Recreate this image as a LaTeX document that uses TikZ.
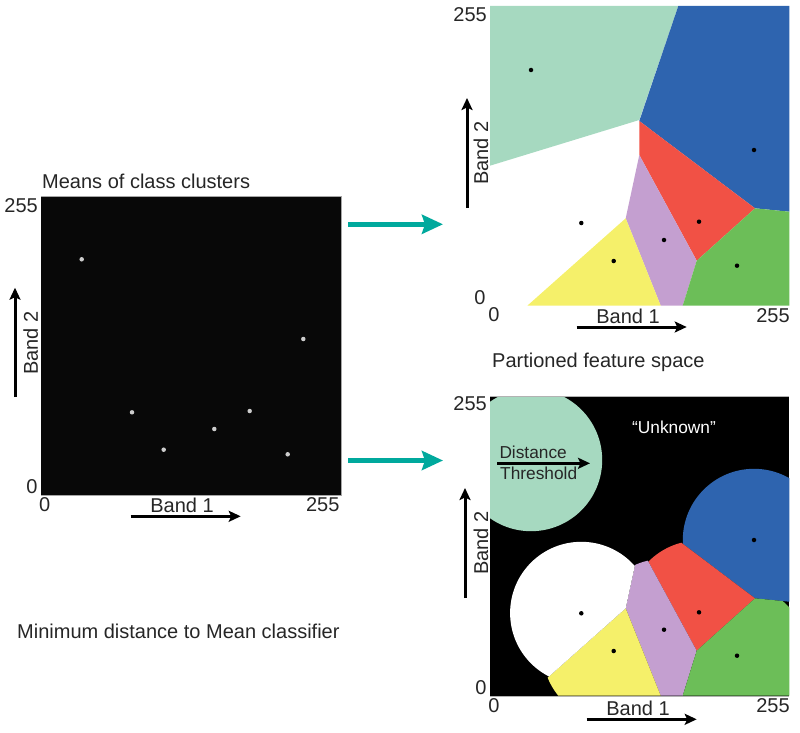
\documentclass[tikz,border=0pt]{standalone}
\usepackage{fontspec}
\setmainfont{Liberation Sans}
\usetikzlibrary{arrows.meta}
\definecolor{tealclass}{HTML}{A6D9C0}
\definecolor{blueclass}{HTML}{2E64AF}
\definecolor{redclass}{HTML}{F15145}
\definecolor{purpleclass}{HTML}{C49FD0}
\definecolor{yellowclass}{HTML}{F5F06A}
\definecolor{greenclass}{HTML}{6CBE58}
\definecolor{arrowteal}{HTML}{00A99D}
\definecolor{panelblack}{HTML}{080808}
\tikzstyle{label}=[font=\fontsize{20}{22}\selectfont,text=black!85,inner sep=0pt]
\tikzstyle{smalllabel}=[font=\fontsize{17.3}{19}\selectfont,text=black!85,inner sep=0pt]
\tikzstyle{axisarrow}=[draw=black,line width=3pt,-{Stealth[length=12pt,width=11pt,inset=2.5pt]}]
\tikzstyle{flowarrow}=[draw=arrowteal,line width=5pt,-{Stealth[length=21pt,width=19pt,inset=3pt]}]
\tikzstyle{whitedot}=[circle,fill=white!80!black,minimum size=4.5pt,inner sep=0pt]
\tikzstyle{blackdot}=[circle,fill=black,minimum size=4.5pt,inner sep=0pt]
% Voronoi cells of the top panel, the lower panel is the same 390 further down
\def\cellteal{(490,6) -- (678.3,6) -- (639.3,120) -- (490,165.7) -- cycle}
\def\cellblue{(678.3,6) -- (789.3,6) -- (789.3,211.7) -- (755,208.3) -- (639.3,121) -- cycle}
\def\cellred{(639.3,121) -- (755,208.3) -- (696.7,260.7) -- (639.3,155) -- cycle}
\def\cellpurple{(639.3,155) -- (696.7,260.7) -- (682.7,305.7) -- (660.7,305.7) -- (625.7,218.3) -- cycle}
\def\cellyellow{(625.7,218.3) -- (660.7,305.7) -- (527.3,305.7) -- cycle}
\def\cellgreen{(755,208.3) -- (789.3,211.7) -- (789.3,305.7) -- (682.7,305.7) -- (696.7,260.7) -- cycle}
\def\cellwhite{(490,165.7) -- (639.3,120) -- (639.3,155) -- (625.7,218.3) -- (527.3,305.7) -- (490,305.7) -- cycle}
\begin{document}
\begin{tikzpicture}[x=1pt,y=-1pt]
    \useasboundingbox (0,0) rectangle (800,733);

    % Means panel
    \fill[panelblack] (41,196) rectangle (341,495);
    \draw[black!35,line width=1pt] (41,196) -- (341,196) -- (341,495) -- (41,495);
    \foreach \pos/\name in {{(81.7,259.3)/ma},{(132,412.3)/mb},{(163.7,449.7)/mc},{(214.3,429)/md},{(249.7,411)/me},{(287.7,454.3)/mf},{(303.3,339)/mg}}
        \node[whitedot] (\name) at \pos {};

    % Partitioned panel
    \foreach \cell/\col in {\cellteal/tealclass,\cellblue/blueclass,\cellred/redclass,\cellpurple/purpleclass,\cellyellow/yellowclass,\cellgreen/greenclass}
        \fill[\col] \cell;
    \foreach \pos/\name in {{(531,70)/pa},{(754,150)/pb},{(699,221.7)/pc},{(664,240)/pd},{(581.3,223)/pe},{(613.7,261)/pf},{(737,265.7)/pg}}
        \node[blackdot] (\name) at \pos {};

    % Thresholded panel
    \fill[black] (490,396.7) rectangle (789.3,696.7);
    \begin{scope}
        \clip (490,396.7) rectangle (789.3,696.7);
        \foreach \cell/\col/\cx/\cy in {\cellteal/tealclass/531/70,\cellblue/blueclass/754/150,\cellred/redclass/699/221.7,\cellpurple/purpleclass/664/240,\cellyellow/yellowclass/613.7/261,\cellgreen/greenclass/737/265.7,\cellwhite/white/581.3/223}
        {
            \begin{scope}
                \clip (\cx,\cy+390) circle (71.2);
                \fill[\col,yshift=-390pt] \cell;
            \end{scope}
        }
    \end{scope}
    \draw[black!30,line width=1pt] (490,396.7) -- (789.3,396.7);
    \draw[black!30,line width=1pt] (490,696.7) -- (789.3,696.7);
    \foreach \pos/\name in {{(754,540)/tb},{(699,612.3)/tc},{(664,629.7)/td},{(581.3,613.3)/te},{(613.7,651)/tf},{(737,655.7)/tg}}
        \node[blackdot] (\name) at \pos {};

    % Flow arrows
    \coordinate (fa) at (348,224.3);
    \coordinate (fb) at (443,224.3);
    \coordinate (fc) at (348,460.5);
    \coordinate (fd) at (443,460.5);
    \draw[flowarrow] (fa) -- (fb);
    \draw[flowarrow] (fc) -- (fd);

    % Axis arrows
    \foreach \source/\dest/\sx/\sy/\dx/\dy in {s1/e1/130.7/516.3/240.7/516.3, s2/e2/15/397/15/287.7, s3/e3/576.7/327/686.7/327, s4/e4/467/208/467/98, s5/e5/586.7/719.3/696.7/719.3, s6/e6/465/598/465/488, s7/e7/497/463.3/590/463.3}
    {
        \coordinate (\source) at (\sx,\sy);
        \coordinate (\dest) at (\dx,\dy);
        \draw[axisarrow] (\source) -- (\dest);
    }

    % Labels
    \node[label,anchor=west] (meanstitle) at (42,181) {Means of class clusters};
    \node[label,anchor=east] (ay) at (38,205.7) {255};
    \node[label] (ao) at (32,487) {0};
    \node[label] (ax) at (44.7,505) {0};
    \node[label] (aband) at (182,505) {Band 1};
    \node[label] (amax) at (322.7,505) {255};
    \node[label,rotate=90] (aband2) at (30.7,343) {Band 2};

    \node[label,anchor=east] (by) at (487,15) {255};
    \node[label] (bo) at (480,298) {0};
    \node[label] (bx) at (494,315) {0};
    \node[label] (bband) at (628,316) {Band 1};
    \node[label] (bmax) at (773,316) {255};
    \node[label,rotate=90] (bband2) at (481,153) {Band 2};
    \node[label,anchor=west] (ptitle) at (492,362) {Partioned feature space};

    \node[label,anchor=east] (cy) at (487,404) {255};
    \node[label] (co) at (481,688) {0};
    \node[label] (cx) at (494,706) {0};
    \node[label] (cband) at (638,708) {Band 1};
    \node[label] (cmax) at (773,706) {255};
    \node[label,rotate=90] (cband2) at (481,543) {Band 2};
    \node[smalllabel,text=white] (unknown) at (674,427) {“Unknown”};
    \node[smalllabel,anchor=west] (dist) at (499.3,452) {Distance};
    \node[smalllabel,anchor=west] (thresh) at (500,473.5) {Threshold};
    \node[label,anchor=west] (mintitle) at (17,631) {Minimum distance to Mean classifier};
\end{tikzpicture}
\end{document}
